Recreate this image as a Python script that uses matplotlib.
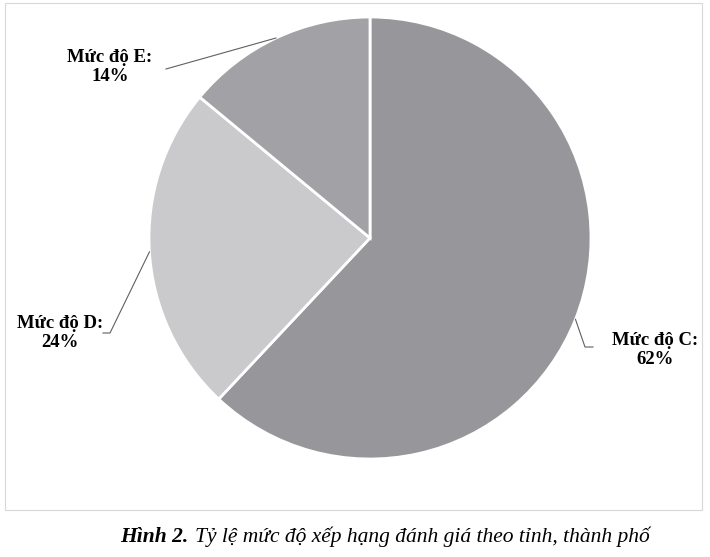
import numpy as np
import matplotlib
matplotlib.use("Agg")
import matplotlib.pyplot as plt
from matplotlib.patches import Rectangle

# data
labels = ["Mức độ C", "Mức độ D", "Mức độ E"]
shares = [62, 24, 14]
colors = ["#97979b", "#cacacd", "#a2a2a6"]

# where each label sits (pixels in the 710x557 image)
label_px = [(655, 350), (60, 333), (110, 67)]
# leader line start and its short elbow before heading to the slice
line_px = [[(593, 347), (585, 347)], [(103, 333), (110, 333)], [(166, 69)]]

W, H = 710, 557
fig = plt.figure(figsize=(W / 100, H / 100), dpi=100)
plt.rcParams["font.family"] = ["Liberation Serif", "DejaVu Serif"]

# faint frame of the chart area
fig.patches.append(Rectangle((5 / W, 1 - 510 / H), 697 / W, 507 / H,
                             transform=fig.transFigure, fill=False,
                             edgecolor="#d8d8d8", lw=0.8))

cx, cy, r = 370, 238, 221
ax = fig.add_axes([(cx - r) / W, 1 - (cy + r) / H, 2 * r / W, 2 * r / H])
wedges, _ = ax.pie(shares, colors=colors, startangle=90, counterclock=False,
                   radius=1, wedgeprops=dict(edgecolor="white", linewidth=2))
ax.set_xlim(-1, 1)
ax.set_ylim(-1, 1)
ax.set_aspect("equal")
ax.axis("off")


def px_to_fig(p):
    return p[0] / W, 1 - p[1] / H


for w, lab, val, lp, lnp in zip(wedges, labels, shares, label_px, line_px):
    mid = np.deg2rad((w.theta1 + w.theta2) / 2)
    edge = (cx + r * np.cos(mid), cy - r * np.sin(mid))
    pts = [px_to_fig(p) for p in lnp + [edge]]
    xs, ys = zip(*pts)
    fig.lines.append(plt.Line2D(xs, ys, transform=fig.transFigure,
                                color="#606060", lw=0.8))
    tx, ty = px_to_fig(lp)
    fig.text(tx, ty, f"{lab}:\n{val}%", ha="center", va="center",
             fontsize=13.5, fontweight="bold", linespacing=1.2)

# caption: bold italic figure number followed by italic text
cap_y = 1 - 537 / H
t1 = fig.text(120 / W, cap_y, "Hình 2.", fontsize=15.5, fontweight="bold",
              fontstyle="italic", va="center", ha="left")
fig.canvas.draw()
bb = t1.get_window_extent(fig.canvas.get_renderer())
fig.text((bb.x1 + 7) / W, cap_y, "Tỷ lệ mức độ xếp hạng đánh giá theo tỉnh, thành phố",
         fontsize=15.5, fontstyle="italic", va="center", ha="left")

fig.savefig("out.png", dpi=100, facecolor="white")
plt.close(fig)
